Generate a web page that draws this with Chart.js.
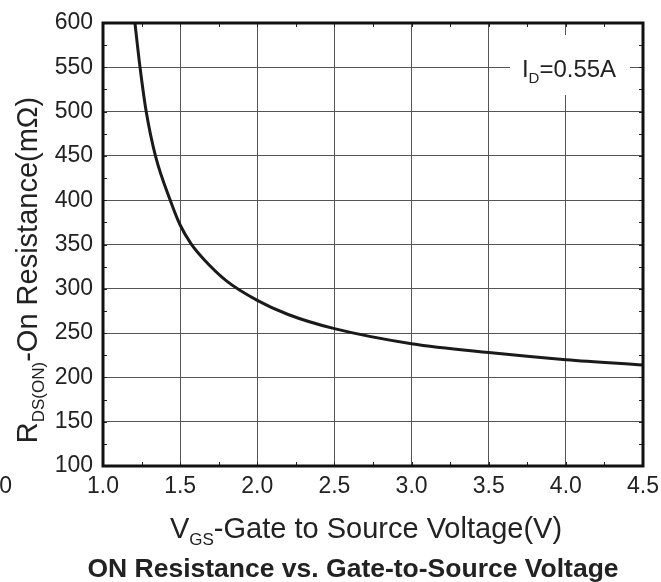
<!DOCTYPE html>
<html>
<head>
<meta charset="utf-8">
<script src="https://cdn.jsdelivr.net/npm/chart.js@4"></script>
<style>
  html, body { margin: 0; padding: 0; background: #fff; }
  #wrap { width: 661px; height: 582px; }
</style>
</head>
<body>
<div id="wrap"><canvas id="chart" width="661" height="582"></canvas></div>
<script>
// values
var vgs   = [1.207, 1.24, 1.28, 1.34, 1.44, 1.5, 1.57, 1.65, 1.8, 2.0, 2.2, 2.5, 3.0, 3.5, 4.0, 4.5];
var rdsOn = [600,   550,  500,  450,  398,  372, 351,  334,  309, 287, 271, 255, 238, 228, 220, 214];

var xRange = [1.0, 4.5];
var yRange = [100, 600];
var xStep = 0.5, yStep = 50;

var ink = '#222';
var fontName = '"Liberation Sans", Arial, sans-serif';

// draw a run of text pieces (for subscripts)
function drawParts(ctx, parts, x, y) {
  var total = 0;
  parts.forEach(function (p) { ctx.font = p.font; total += ctx.measureText(p.text).width; });
  var cx = x - total / 2;
  parts.forEach(function (p) {
    ctx.font = p.font;
    ctx.textAlign = 'left';
    ctx.fillText(p.text, cx, y + (p.dy || 0));
    cx += ctx.measureText(p.text).width;
  });
}

var decorations = {
  id: 'decorations',
  afterDraw: function (chart) {
    var ctx = chart.ctx;
    var a = chart.chartArea;
    var xs = chart.scales.x, ys = chart.scales.y;
    ctx.save();

    // label box
    ctx.fillStyle = '#fff';
    ctx.fillRect(510, 35, 120, 60);

    // minor ticks
    ctx.strokeStyle = ink;
    ctx.lineWidth = 1;
    ctx.beginPath();
    for (var v = yRange[0] + 25; v < yRange[1]; v += 25) {
      var py = Math.round(ys.getPixelForValue(v)) + 0.5;
      ctx.moveTo(a.left, py); ctx.lineTo(a.left + 4, py);
      ctx.moveTo(a.right, py); ctx.lineTo(a.right - 4, py);
    }
    for (var u = xRange[0] + 0.25; u < xRange[1]; u += 0.25) {
      var px = Math.round(xs.getPixelForValue(u)) + 0.5;
      ctx.moveTo(px, a.bottom); ctx.lineTo(px, a.bottom - 4);
      ctx.moveTo(px, a.top); ctx.lineTo(px, a.top + 4);
    }
    ctx.stroke();

    // frame
    ctx.lineWidth = 3;
    ctx.strokeStyle = '#111';
    ctx.strokeRect(a.left, a.top, a.right - a.left, a.bottom - a.top);

    ctx.fillStyle = ink;
    ctx.textBaseline = 'alphabetic';

    // I_D label
    var big = '24px ' + fontName, sub = '15px ' + fontName;
    drawParts(ctx, [
      { text: 'I', font: big },
      { text: 'D', font: sub, dy: 6 },
      { text: '=0.55A', font: big }
    ], 569, 77);

    // x axis title
    var tf = '29px ' + fontName, ts = '17px ' + fontName;
    drawParts(ctx, [
      { text: 'V', font: tf },
      { text: 'GS', font: ts, dy: 7 },
      { text: '-Gate to Source Voltage(V)', font: tf }
    ], 366, 538);

    // y axis title
    ctx.save();
    ctx.translate(37, 270);
    ctx.rotate(-Math.PI / 2);
    drawParts(ctx, [
      { text: 'R', font: tf },
      { text: 'DS(ON)', font: ts, dy: 7 },
      { text: '-On Resistance(m\u03A9)', font: tf }
    ], 0, 0);
    ctx.restore();

    // chart title
    ctx.font = 'bold 26.5px ' + fontName;
    ctx.textAlign = 'center';
    ctx.fillText('ON Resistance vs. Gate-to-Source Voltage', 353, 577);

    // stray clipped label at the left edge
    ctx.font = '23px ' + fontName;
    ctx.textAlign = 'right';
    ctx.fillText('0', 12, 493);

    ctx.restore();
  }
};

var points = vgs.map(function (v, i) { return { x: v, y: rdsOn[i] }; });

new Chart(document.getElementById('chart'), {
  type: 'line',
  data: {
    datasets: [{
      data: points,
      borderColor: '#1a1a1a',
      borderWidth: 3,
      pointRadius: 0,
      fill: false,
      cubicInterpolationMode: 'monotone'
    }]
  },
  options: {
    responsive: false,
    animation: false,
    layout: { padding: { top: 23, right: 18, left: 0, bottom: 0 } },
    plugins: { legend: { display: false }, tooltip: { enabled: false } },
    scales: {
      x: {
        type: 'linear',
        min: xRange[0], max: xRange[1],
        afterFit: function (s) { s.height = 116; s.paddingRight = 0; s.paddingLeft = 0; },
        border: { display: false },
        grid: { color: '#555', lineWidth: 1, drawTicks: false },
        ticks: {
          stepSize: xStep,
          padding: 7,
          color: ink,
          font: { family: fontName, size: 23 },
          callback: function (v) { return Number(v).toFixed(1); }
        }
      },
      y: {
        min: yRange[0], max: yRange[1],
        afterFit: function (s) { s.width = 103; s.paddingTop = 0; s.paddingBottom = 0; },
        border: { display: false },
        grid: { color: '#555', lineWidth: 1, drawTicks: false },
        ticks: {
          stepSize: yStep,
          padding: 10,
          color: ink,
          font: { family: fontName, size: 23 }
        }
      }
    }
  },
  plugins: [decorations]
});
</script>
</body>
</html>
